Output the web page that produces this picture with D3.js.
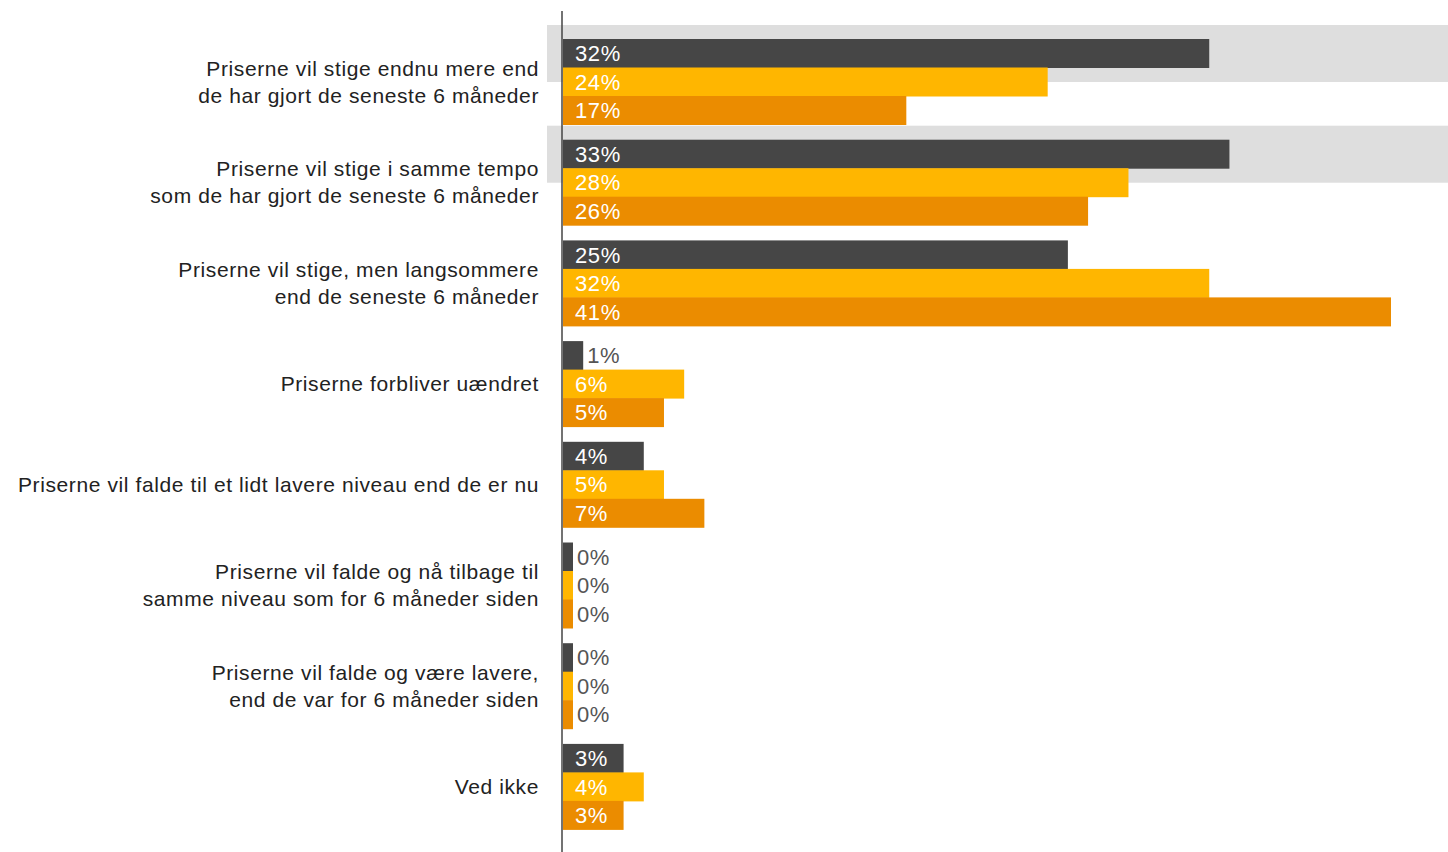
<!DOCTYPE html>
<html>
<head>
<meta charset="utf-8">
<script src="https://cdn.jsdelivr.net/npm/d3@7"></script>
<style>
  body { margin: 0; background: #fff; }
  text { font-family: "Liberation Sans", Arial, Helvetica, sans-serif; }
</style>
</head>
<body>
<div id="chart"></div>
<script>
(function(){
	var width = 1448,
		height = 852;

	// categories (label lines)
	var categories = [
		["Priserne vil stige endnu mere end", "de har gjort de seneste 6 måneder"],
		["Priserne vil stige i samme tempo", "som de har gjort de seneste 6 måneder"],
		["Priserne vil stige, men langsommere", "end de seneste 6 måneder"],
		["Priserne forbliver uændret"],
		["Priserne vil falde til et lidt lavere niveau end de er nu"],
		["Priserne vil falde og nå tilbage til", "samme niveau som for 6 måneder siden"],
		["Priserne vil falde og være lavere,", "end de var for 6 måneder siden"],
		["Ved ikke"]
	];
	var series = ["a", "b", "c"];
	var seriesA = [32, 33, 25, 1, 4, 0, 0, 3];
	var seriesB = [24, 28, 32, 6, 5, 0, 0, 4];
	var seriesC = [17, 26, 41, 5, 7, 0, 0, 3];
	var highlighted = [0, 1];

	var colors = { a: "#464646", b: "#FFB600", c: "#EB8C00" };
	var values = { a: seriesA, b: seriesB, c: seriesC };

	var svg = d3.select("#chart")
		.append("svg")
		.attr("width", width)
		.attr("height", height);

	var idx = d3.range(categories.length);

	var y = d3.scaleBand()
		.domain(idx)
		.range([31.4, 837])
		.paddingInner(0.151)
		.paddingOuter(0.0755);

	var ySub = d3.scaleBand()
		.domain(series)
		.range([0, y.bandwidth()]);

	var x = d3.scaleLinear()
		.domain([0, 41])
		.range([563, 1391]);

	// grey highlight bands
	svg.selectAll(".hl")
		.data(highlighted)
		.enter().append("rect")
		.attr("class", "hl")
		.attr("x", 547)
		.attr("width", width - 547)
		.attr("y", function(d){ return y(d) - 14; })
		.attr("height", 57)
		.attr("fill", "#dedede");

	var groups = svg.selectAll(".grp")
		.data(idx)
		.enter().append("g")
		.attr("class", "grp")
		.attr("transform", function(d){ return "translate(0," + y(d) + ")"; });

	function barW(v) {
		return Math.max(x(v) - x(0), 10);
	}

	groups.selectAll("rect")
		.data(function(i){ return series.map(function(s){ return {s: s, v: values[s][i]}; }); })
		.enter().append("rect")
		.attr("x", x(0))
		.attr("y", function(d){ return ySub(d.s); })
		.attr("height", ySub.bandwidth() + 0.5)
		.attr("width", function(d){ return barW(d.v); })
		.attr("fill", function(d){ return colors[d.s]; });

	groups.selectAll(".val")
		.data(function(i){ return series.map(function(s){ return {s: s, v: values[s][i]}; }); })
		.enter().append("text")
		.attr("class", "val")
		.attr("x", function(d){ return d.v >= 2 ? x(0) + 12 : x(0) + barW(d.v) + 4; })
		.attr("y", function(d){ return ySub(d.s) + ySub.bandwidth() / 2; })
		.attr("dy", "0.36em")
		.attr("font-size", "22px")
		.attr("letter-spacing", "0.6px")
		.attr("fill", function(d){ return d.v >= 2 ? "#fff" : "#555"; })
		.text(function(d){ return d.v + "%"; });

	// category labels
	groups.append("text")
		.attr("x", 539)
		.attr("y", y.bandwidth() / 2)
		.attr("text-anchor", "end")
		.attr("font-size", "21px")
		.attr("letter-spacing", "0.6px")
		.attr("fill", "#222")
		.each(function(i){
			var lines = categories[i];
			var t = d3.select(this);
			lines.forEach(function(l, k){
				t.append("tspan")
					.attr("x", 539)
					.attr("y", y.bandwidth() / 2 + (k - (lines.length - 1) / 2) * 27)
					.attr("dy", "0.36em")
					.text(l);
			});
		});

	// axis line
	svg.append("line")
		.attr("x1", 562).attr("x2", 562)
		.attr("y1", 11).attr("y2", height)
		.attr("stroke", "#444")
		.attr("stroke-width", 1.5);
})();
</script>
</body>
</html>
